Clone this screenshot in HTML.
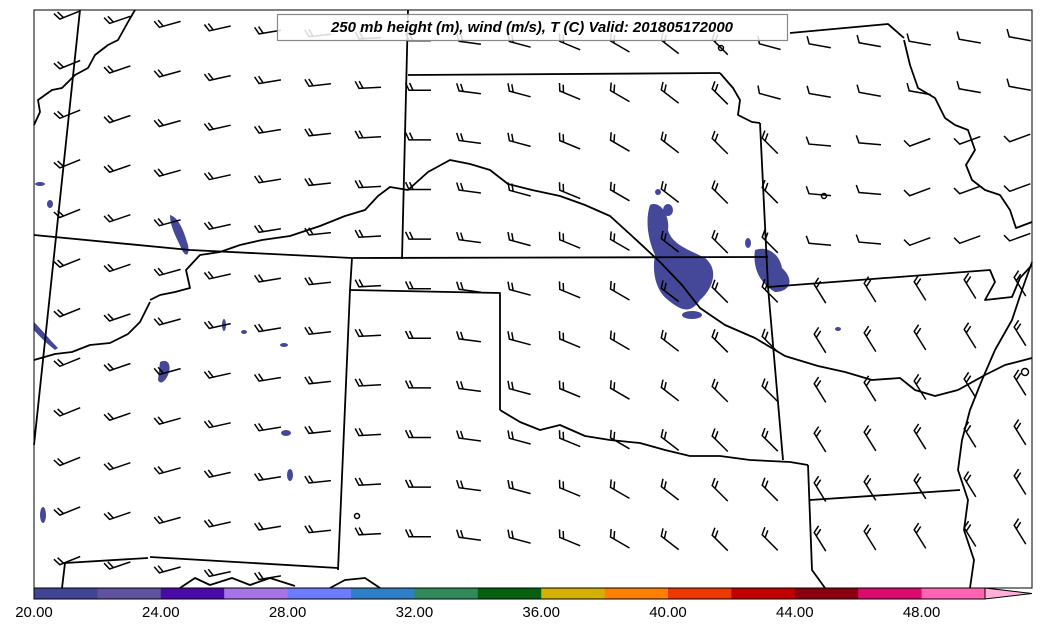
<!DOCTYPE html>
<html><head><meta charset="utf-8">
<style>
html,body{margin:0;padding:0;background:#fff;}
svg{display:block;font-family:"Liberation Sans",sans-serif;}
</style></head>
<body>
<svg id="s" width="1041" height="633" viewBox="0 0 1041 633" xmlns="http://www.w3.org/2000/svg">
<rect x="0" y="0" width="1041" height="633" fill="#fff"/>
<g fill="#454899" stroke="none">
<path d="M650,205 C660,200 670,215 668,230 C672,245 690,250 705,258 C720,270 712,290 700,300 C690,315 680,310 668,300 C655,290 652,270 655,255 C648,240 645,220 650,205Z"/>
<path d="M755,250 C768,245 780,255 782,268 C795,280 790,292 775,292 C762,285 752,270 755,250Z"/>
<ellipse cx="692" cy="315" rx="10" ry="4"/>
<ellipse cx="668" cy="210" rx="5" ry="6"/>
<ellipse cx="658" cy="192" rx="3" ry="3"/>
<ellipse cx="748" cy="243" rx="3" ry="5"/>
<path d="M170,215 C180,218 185,235 188,245 C190,255 186,258 182,250 C178,240 170,228 170,215Z"/>
<path d="M160,362 C168,358 172,365 168,375 C165,382 160,385 158,380Z"/>
<path d="M34,322 C42,330 50,340 58,348 L55,350 C45,342 38,335 34,330Z"/>
<ellipse cx="286" cy="433" rx="5" ry="3"/>
<ellipse cx="290" cy="475" rx="3" ry="6"/>
<ellipse cx="43" cy="515" rx="3" ry="8"/>
<ellipse cx="50" cy="204" rx="3" ry="4"/>
<ellipse cx="40" cy="184" rx="5" ry="2"/>
<ellipse cx="224" cy="325" rx="2" ry="6"/>
<ellipse cx="244" cy="332" rx="3" ry="2"/>
<ellipse cx="284" cy="345" rx="4" ry="2"/>
<ellipse cx="838" cy="329" rx="3" ry="2"/>
</g>
<g id="map" fill="none" stroke="#000" stroke-width="1.8" stroke-linejoin="round">
<path d="M80,10 L34,445"/>
<path d="M408,10 L402,259"/>
<path d="M408,75 L720,73"/>
<path d="M34,235 L190,250 L352,258 L768,257"/>
<path d="M760,123 L768,287 L783,460"/>
<path d="M352,258 L350,290 L338,570"/>
<path d="M350,290 L500,293 L500,410"/>
<path d="M768,287 L990,270 L995,282 L985,300 L1012,297 L1020,278 L1032,265"/>
<path d="M808,465 L812,570 L825,588"/>
<path d="M810,500 L960,490"/>
<path d="M65,563 L62,588"/><path d="M65,563 L148,558"/>
<path d="M150,557 L338,568"/>
<path d="M790,33 L888,24 L904,38"/>
<path d="M34,125 L40,112 L38,100 L52,90 L62,88 L75,75 L88,68 L95,55 L108,45 L118,40 L128,22 L135,10"/>
<path d="M150,300 L160,295 L175,292 L190,288 L186,270 L200,255 L220,252 L240,245 L262,240 L290,236 L320,226 L345,216 L365,210 L378,196 L390,187 L408,190 L428,172 L450,160 L470,164 L490,170 L508,184 L532,190 L560,196 L585,205 L610,216 L632,236 L660,262 L682,285 L700,308 L725,325 L755,338 L785,356 L818,366 L845,372 L872,380 L900,378 L915,390 L935,396 L958,390"/>
<path d="M34,360 L55,354 L72,352 L90,345 L110,343 L128,334 L140,322 L150,302"/>
<path d="M500,410 L520,422 L540,430 L560,425 L585,436 L610,440 L640,443 L665,450 L690,456 L720,456 L750,460 L790,462 L808,465"/>
<path d="M720,73 L733,88 L740,100 L738,115 L752,122 L760,123"/>
<path d="M904,40 L910,65 L918,88 L935,98 L945,118 L955,125 L968,130 L975,150 L966,165 L972,180 L985,190 L1000,195 L1010,210 L1016,228 L1032,222"/>
<path d="M1032,262 L1022,290 L1012,320 L995,350 L982,380 L970,410 L962,440 L958,470 L968,500 L964,530 L974,560 L970,588"/>
<path d="M958,390 L985,375 L1005,365 L1032,358"/>
<path d="M180,588 L195,578 L210,585 L232,578 L250,585 L270,578 L295,586"/>
<path d="M330,588 L345,580 L365,578 L380,588"/>
<circle cx="721" cy="48" r="2.5" stroke-width="1.5"/>
<circle cx="824" cy="196" r="2.5" stroke-width="1.5"/>
<circle cx="357" cy="516" r="2.5" stroke-width="1.5"/>
<circle cx="1025" cy="372" r="3.5" stroke-width="1.5"/>
</g>
<g id="barbs" stroke="#000" stroke-width="1.5" fill="none" stroke-linecap="butt"></g>
<rect x="34" y="10" width="998" height="578" fill="none" stroke="#000" stroke-width="1"/>
<rect x="277.5" y="14.5" width="510" height="26" fill="#fff" fill-opacity="0.85" stroke="#888" stroke-width="1.2"/>
<text x="532" y="32" text-anchor="middle" font-size="15" font-weight="bold" font-style="italic">250 mb height (m), wind (m/s), T (C) Valid: 201805172000</text>
<g id="cb"></g>
<polygon points="985,588 1032,593.5 985,599" fill="#ffb0d8" stroke="#000" stroke-width="1"/>
<rect x="34" y="588" width="951" height="11" fill="none" stroke="#000" stroke-width="1"/>
<g font-size="15" text-anchor="middle" fill="#000">
<text x="34" y="617">20.00</text><text x="160.8" y="617">24.00</text><text x="287.6" y="617">28.00</text><text x="414.4" y="617">32.00</text><text x="541.2" y="617">36.00</text><text x="668" y="617">40.00</text><text x="794.8" y="617">44.00</text><text x="921.6" y="617">48.00</text>
</g>
</svg>
<script>
var cols=["#414596","#5f529e","#4a0aa8","#a873e6","#6d7bff","#2f7fc8","#2e8b57","#056110","#d4b000","#ff8000","#ee3800","#c30000","#8b0010","#dd0a6e","#ff63b1"];
var cb=document.getElementById("cb"),h="";
for(var i=0;i<15;i++){h+='<rect x="'+(34+i*63.4)+'" y="588" width="63.9" height="11" fill="'+cols[i]+'"/>';}
cb.innerHTML=h;
var b="";
for(var x=70;x<=1025;x+=50){
 var off=15+32*(1-Math.pow((x-700)/630,2));
 for(var k=-1;k<12;k++){
  var y=off+k*49.6;
  if(y<12||y>578)continue;
  var ang,n=2;
  if(x<=420) ang=158+(x-70)*0.063;
  else if(x<=720) ang=180+(x-420)*0.15;
  else if(x<=770){ang=(y<130)?195:225;n=(y<130)?1:2;}
  else if(y<130){n=1;ang=190;}
  else if(y<260){n=1;ang=(x<880)?185:160;}
  else {n=2;ang=238;}
  var a=ang*Math.PI/180,L=22;
  var dx=Math.cos(a),dy=Math.sin(a);
  var ox=x-dx*L/2,oy=y-dy*L/2,tx=ox+dx*L,ty=oy+dy*L;
  var ba=a+65*Math.PI/180,bl=8;
  var p="M"+ox.toFixed(1)+","+oy.toFixed(1)+"L"+tx.toFixed(1)+","+ty.toFixed(1)+"l"+(Math.cos(ba)*bl).toFixed(1)+","+(Math.sin(ba)*bl).toFixed(1);
  if(n==2){var sx=tx-dx*4,sy=ty-dy*4;p+="M"+sx.toFixed(1)+","+sy.toFixed(1)+"l"+(Math.cos(ba)*bl).toFixed(1)+","+(Math.sin(ba)*bl).toFixed(1);}
  b+='<path d="'+p+'"/>';
 }
}
document.getElementById("barbs").innerHTML=b;
</script>
</body></html>
